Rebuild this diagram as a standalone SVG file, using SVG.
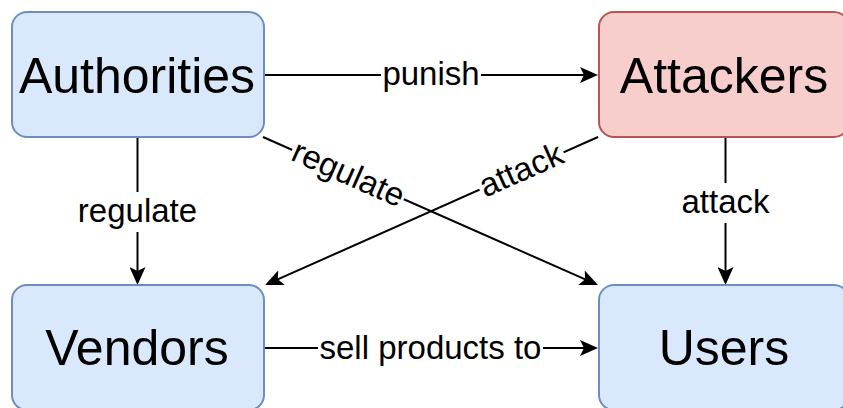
<svg xmlns="http://www.w3.org/2000/svg" width="843" height="408" viewBox="0 0 843 408">
  <defs>
    <marker id="arrow" viewBox="0 0 18 16" markerWidth="18" markerHeight="16" refX="14" refY="8" orient="auto" markerUnits="userSpaceOnUse">
      <path d="M0,0 L18,8 L0,16 L4,8 Z" fill="#000"/>
    </marker>
  </defs>
  <style>
    .blue { fill: #dae8fc; stroke: #6c8ebf; stroke-width: 2; }
    .red { fill: #f8cecc; stroke: #b85450; stroke-width: 2; }
    .node-label { font-family: "Liberation Sans", Arial, Helvetica, sans-serif; font-size: 50px; fill: #000; text-anchor: middle; }
    .edge { stroke: #000; stroke-width: 2; fill: none; marker-end: url(#arrow); }
    .edge-bg { fill: #fff; }
    .edge-label { font-family: "Liberation Sans", Arial, Helvetica, sans-serif; font-size: 33px; fill: #000; text-anchor: middle; }
  </style>
  <rect width="843" height="408" fill="#fff"/>

  <!-- connectors -->
  <g id="connectors">
    <!-- Authorities -> Attackers -->
    <line class="edge" x1="264" y1="75" x2="594" y2="75"/>
    <rect class="edge-bg" x="381" y="56" width="100" height="38"/>
    <text class="edge-label" x="431" y="85">punish</text>

    <!-- Authorities -> Vendors -->
    <line class="edge" x1="137.5" y1="138" x2="137.5" y2="281"/>
    <rect class="edge-bg" x="76" y="192" width="123" height="40"/>
    <text class="edge-label" x="137.5" y="222">regulate</text>

    <!-- Attackers -> Users -->
    <line class="edge" x1="725.5" y1="138" x2="725.5" y2="281"/>
    <rect class="edge-bg" x="680" y="183" width="91" height="40"/>
    <text class="edge-label" x="725.5" y="213">attack</text>

    <!-- Vendors -> Users -->
    <line class="edge" x1="264" y1="348" x2="594" y2="348"/>
    <rect class="edge-bg" x="318" y="329" width="225" height="38"/>
    <text class="edge-label" x="430.5" y="359">sell products to</text>

    <!-- Authorities -> Users (diagonal) -->
    <line class="edge" x1="263" y1="137" x2="594.3" y2="283.4"/>
    <g transform="translate(348,174.5) rotate(23.84)">
      <rect class="edge-bg" x="-61" y="-17" width="122" height="34"/>
      <text class="edge-label" x="0" y="10">regulate</text>
    </g>

    <!-- Attackers -> Vendors (diagonal) -->
    <line class="edge" x1="598" y1="137" x2="268.7" y2="283.4"/>
    <g transform="translate(521.5,170.8) rotate(-23.84)">
      <rect class="edge-bg" x="-46" y="-17" width="92" height="34"/>
      <text class="edge-label" x="0" y="10">attack</text>
    </g>
  </g>

  <!-- nodes -->
  <g id="authorities">
    <rect class="blue" x="12" y="12" width="252" height="125" rx="15" ry="15"/>
    <text class="node-label" x="137" y="93">Authorities</text>
  </g>
  <g id="attackers">
    <rect class="red" x="599" y="12" width="250" height="125" rx="15" ry="15"/>
    <text class="node-label" x="724" y="93">Attackers</text>
  </g>
  <g id="vendors">
    <rect class="blue" x="12" y="285" width="252" height="125" rx="15" ry="15"/>
    <text class="node-label" x="137" y="365">Vendors</text>
  </g>
  <g id="users">
    <rect class="blue" x="599" y="285" width="250" height="125" rx="15" ry="15"/>
    <text class="node-label" x="724" y="365">Users</text>
  </g>
</svg>
